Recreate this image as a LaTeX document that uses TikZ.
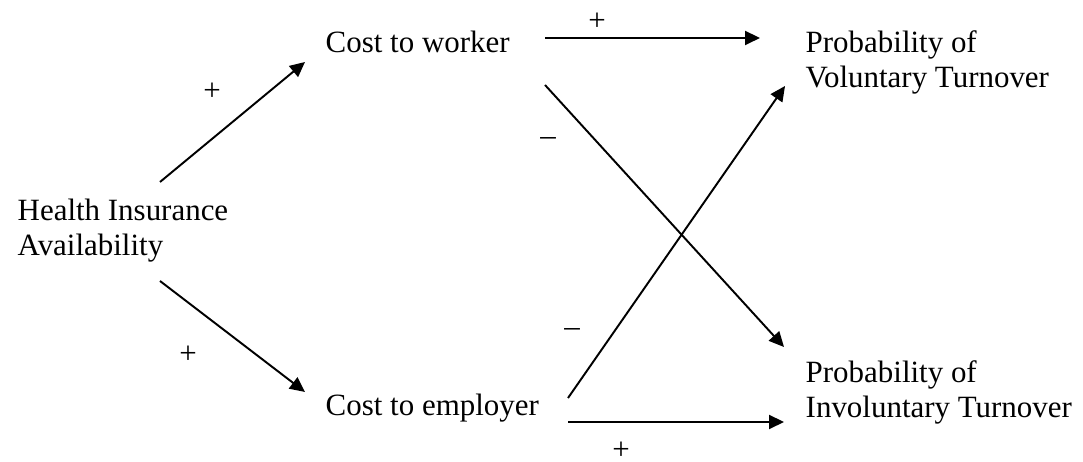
\documentclass[tikz,border=0pt]{standalone}
\usepackage{fontspec}
\setmainfont{Liberation Serif}
\usetikzlibrary{positioning,arrows.meta}

\begin{document}
\begin{tikzpicture}[x=0.01cm, y=-0.01cm,
  every node/.style={font=\fontsize{8.8}{10}\selectfont, inner sep=0pt, anchor=base west},
  arr/.style={line width=0.55pt, -{Triangle[length=0.15cm, width=0.14cm]}},
  sign/.style={anchor=center}]
\useasboundingbox (0,0) rectangle (1083,462);
% cause
\node[align=left] (hia) at (17,256) {Health Insurance\\Availability};
% costs
\node (worker) at (325,53) {Cost to worker};
\node (employer) at (325,416) {Cost to employer};
% outcomes
\node[align=left] (vol) at (805,88) {Probability of\\Voluntary Turnover};
\node[align=left] (invol) at (805,418) {Probability of\\Involuntary Turnover};

\draw[arr] ([shift={(143,-74)}]hia.base west) -- ([shift={(-20,9)}]worker.base west);
\draw[arr] ([shift={(143,25)}]hia.base west) -- ([shift={(-20,-24)}]employer.base west);
\draw[arr] ([shift={(220,-15)}]worker.base west) -- ([shift={(-45,-50)}]vol.base west);
\draw[arr] ([shift={(220,32)}]worker.base west) -- ([shift={(-21,-71)}]invol.base west);
\draw[arr] ([shift={(243,-18)}]employer.base west) -- ([shift={(-20,-2)}]vol.base west);
\draw[arr] ([shift={(243,6)}]employer.base west) -- ([shift={(-21,4)}]invol.base west);

% signs
\node[sign] (s1) at (212,92) {+};
\node[sign] (s2) at (188,355) {+};
\node[sign] (s3) at (597,22) {+};
\node[sign] (s4) at (548,142) {\textendash};
\node[sign] (s5) at (572,333) {\textendash};
\node[sign] (s6) at (621,451) {+};
\end{tikzpicture}
\end{document}
